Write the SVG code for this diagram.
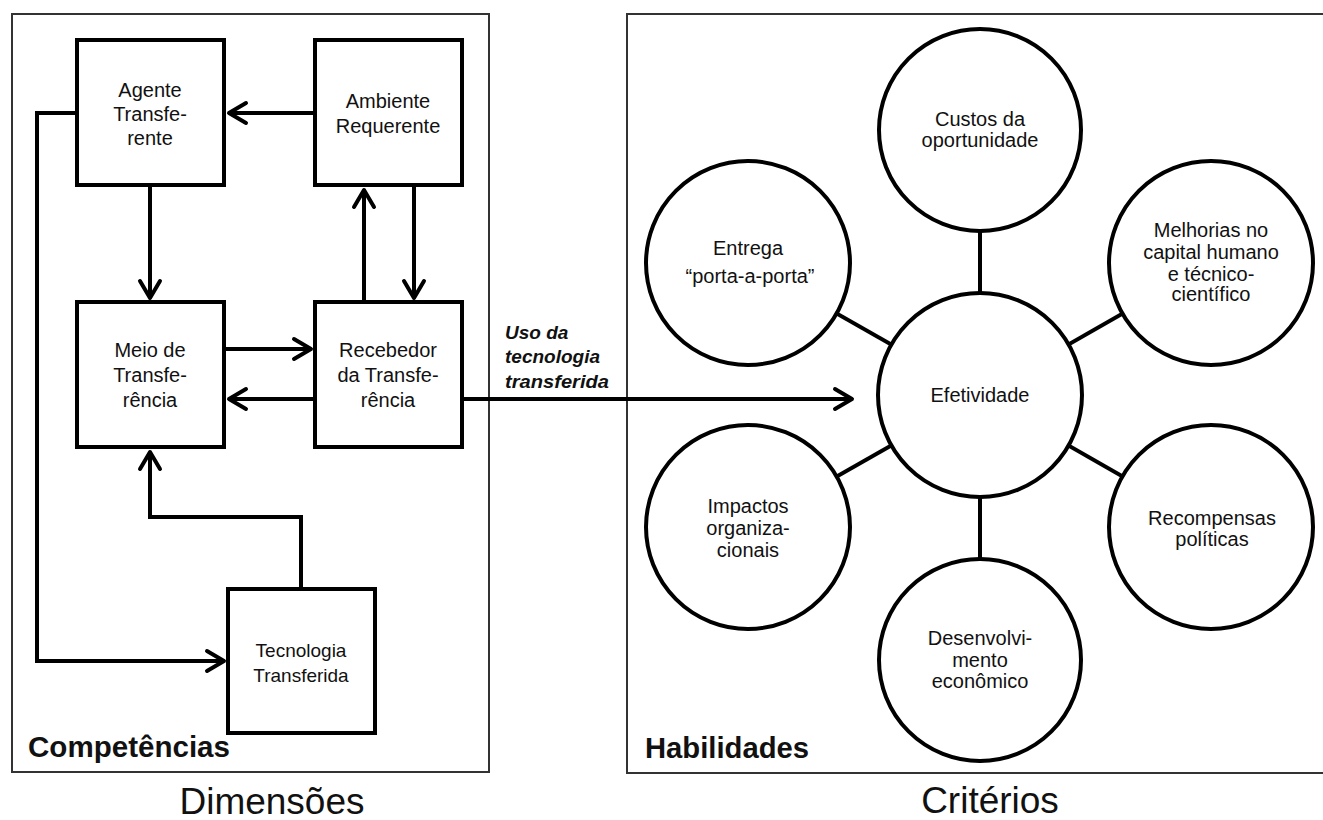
<svg xmlns="http://www.w3.org/2000/svg" width="1323" height="820" viewBox="0 0 1323 820">
<style>
.panel{fill:none;stroke:#333;stroke-width:2}
.box{fill:#fff;stroke:#000;stroke-width:4}
.ell{fill:#fff;stroke:#000;stroke-width:4}
.conn{fill:none;stroke:#000;stroke-width:4}
.spoke{fill:none;stroke:#000;stroke-width:4}
.t{font-family:"Liberation Sans",Arial,sans-serif;font-size:20px;fill:#111;text-anchor:middle}
.title{font-family:"Liberation Sans",Arial,sans-serif;font-weight:bold;font-size:29px;fill:#111}
.cap{font-family:"Liberation Sans",Arial,sans-serif;font-size:37px;fill:#111;text-anchor:middle}
.lbl{font-family:"Liberation Sans",Arial,sans-serif;font-weight:bold;font-style:italic;font-size:19px;fill:#111}
</style>
<defs>
<marker id="arr" markerUnits="userSpaceOnUse" viewBox="-24 -14 28 28" refX="0" refY="0" markerWidth="28" markerHeight="28" orient="auto">
<path d="M-17,-10 L0,0 L-17,10" fill="none" stroke="#000" stroke-width="4" stroke-linejoin="round" stroke-linecap="round"/>
</marker>
</defs>
<rect class="panel" x="12" y="14" width="477" height="758"/>
<rect class="panel" x="627" y="14" width="720" height="759"/>
<g id="spokes">
<line class="spoke" x1="980" y1="130" x2="980" y2="395"/>
<line class="spoke" x1="748" y1="263" x2="980" y2="395"/>
<line class="spoke" x1="1211" y1="263" x2="980" y2="395"/>
<line class="spoke" x1="748" y1="527" x2="980" y2="395"/>
<line class="spoke" x1="1211" y1="527" x2="980" y2="395"/>
<line class="spoke" x1="980" y1="660" x2="980" y2="395"/>
</g>
<g id="agente"><rect class="box" x="77" y="40" width="147" height="145"/>
<text class="t" x="150" y="97">Agente</text><text class="t" x="150" y="121">Transfe-</text><text class="t" x="150" y="145">rente</text></g>
<g id="ambiente"><rect class="box" x="315" y="40" width="147" height="145"/>
<text class="t" x="388" y="108">Ambiente</text><text class="t" x="388" y="133">Requerente</text></g>
<g id="meio"><rect class="box" x="77" y="302" width="147" height="145"/>
<text class="t" x="150" y="357">Meio de</text><text class="t" x="150" y="382">Transfe-</text><text class="t" x="150" y="407">rência</text></g>
<g id="recebedor"><rect class="box" x="315" y="302" width="147" height="145"/>
<text class="t" x="388" y="357">Recebedor</text><text class="t" x="388" y="382">da Transfe-</text><text class="t" x="388" y="407">rência</text></g>
<g id="tecnologia"><rect class="box" x="228" y="589" width="147" height="144"/>
<text class="t" x="301" y="657" style="font-size:19px">Tecnologia</text><text class="t" x="301" y="682" style="font-size:19px">Transferida</text></g>
<g id="custos"><circle class="ell" cx="980" cy="130" r="101"/>
<text class="t" x="980" y="126">Custos da</text><text class="t" x="980" y="147">oportunidade</text></g>
<g id="entrega"><circle class="ell" cx="748" cy="263" r="102"/>
<text class="t" x="748" y="255">Entrega</text><text class="t" x="750" y="283">“porta-a-porta”</text></g>
<g id="melhorias"><circle class="ell" cx="1211" cy="263" r="102"/>
<text class="t" x="1211" y="237">Melhorias no</text><text class="t" x="1211" y="259">capital humano</text><text class="t" x="1211" y="281">e técnico-</text><text class="t" x="1211" y="301">científico</text></g>
<g id="efetividade"><circle class="ell" cx="980" cy="395" r="102"/>
<text class="t" x="980" y="402">Efetividade</text></g>
<g id="impactos"><circle class="ell" cx="748" cy="527" r="102"/>
<text class="t" x="748" y="513">Impactos</text><text class="t" x="748" y="535">organiza-</text><text class="t" x="748" y="557">cionais</text></g>
<g id="recompensas"><circle class="ell" cx="1211" cy="527" r="102"/>
<text class="t" x="1212" y="525">Recompensas</text><text class="t" x="1212" y="546">políticas</text></g>
<g id="desenvolvimento"><circle class="ell" cx="980" cy="660" r="101"/>
<text class="t" x="980" y="645">Desenvolvi-</text><text class="t" x="980" y="667">mento</text><text class="t" x="980" y="688">econômico</text></g>
<g id="connectors">
<line class="conn" x1="313" y1="113" x2="229" y2="113" marker-end="url(#arr)"/>
<line class="conn" x1="150" y1="187" x2="150" y2="298" marker-end="url(#arr)"/>
<line class="conn" x1="364" y1="300" x2="364" y2="190" marker-end="url(#arr)"/>
<line class="conn" x1="414" y1="187" x2="414" y2="298" marker-end="url(#arr)"/>
<line class="conn" x1="226" y1="349" x2="311" y2="349" marker-end="url(#arr)"/>
<line class="conn" x1="313" y1="399" x2="229" y2="399" marker-end="url(#arr)"/>
<polyline class="conn" points="301,587 301,517 150,517 150,452" marker-end="url(#arr)"/>
<polyline class="conn" points="75,113 37,113 37,661 224,661" marker-end="url(#arr)"/>
<line class="conn" x1="464" y1="399" x2="852" y2="399" marker-end="url(#arr)"/>
</g>
<g id="labels">
<text class="lbl" x="505" y="339">Uso da</text>
<text class="lbl" x="505" y="363">tecnologia</text>
<text class="lbl" x="505" y="388" textLength="104" lengthAdjust="spacingAndGlyphs">transferida</text>
<text class="title" x="28" y="757" textLength="202" lengthAdjust="spacingAndGlyphs">Competências</text>
<text class="title" x="645" y="758" textLength="164" lengthAdjust="spacingAndGlyphs">Habilidades</text>
<text class="cap" x="272" y="814">Dimensões</text>
<text class="cap" x="990" y="813">Critérios</text>
</g>
</svg>
